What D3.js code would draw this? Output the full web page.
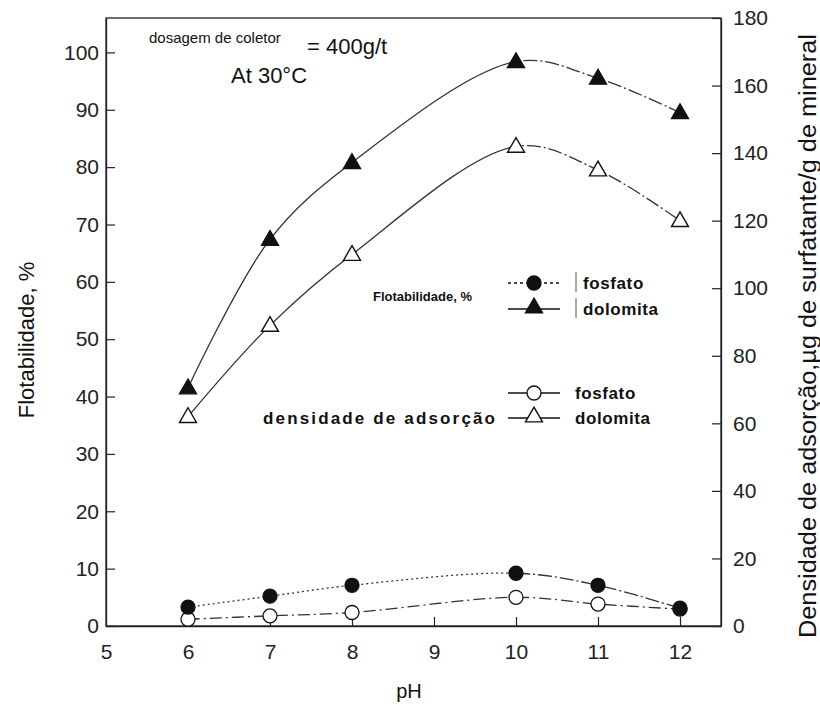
<!DOCTYPE html>
<html>
<head>
<meta charset="utf-8">
<script src="https://cdn.jsdelivr.net/npm/d3@7"></script>
<style>
  body { margin: 0; background: #fff; }
  svg text { font-family: "Liberation Sans", Arial, sans-serif; }
</style>
</head>
<body>
<svg id="chart" width="820" height="705"></svg>
<script>
// pH values and series
const PH = [6, 7, 8, 10, 11, 12];
const FLOT_DOLOMITA = [41.5, 67.4, 80.8, 98.4, 95.5, 89.5];   // left axis, %
const FLOT_FOSFATO = [3.3, 5.2, 7.1, 9.2, 7.1, 3.1];          // left axis, %
const ADS_DOLOMITA = [62, 89, 110, 142, 135, 120];            // right axis, µg/g
const ADS_FOSFATO = [2, 3, 4, 8.5, 6.5, 5];                   // right axis, µg/g

const X_TICKS = [5, 6, 7, 8, 9, 10, 11, 12];
const LEFT_TICKS = [0, 10, 20, 30, 40, 50, 60, 70, 80, 90, 100];
const RIGHT_TICKS = [0, 20, 40, 60, 80, 100, 120, 140, 160, 180];

const M = { left: 106, right: 721, top: 18, bottom: 626 };

const svg = d3.select('#chart');

const x = d3.scaleLinear().domain([5, 12.5]).range([M.left, M.right]);
const yL = d3.scaleLinear().domain([0, 106]).range([M.bottom, M.top]);
const yR = d3.scaleLinear().domain([0, 180]).range([M.bottom, M.top]);

// frame
svg.append('rect')
  .attr('x', M.left).attr('y', M.top)
  .attr('width', M.right - M.left).attr('height', M.bottom - M.top)
  .attr('fill', 'none').attr('stroke', '#222').attr('stroke-width', 1.3);

// axes, ticks point inward
const gx = svg.append('g').attr('transform', `translate(0,${M.bottom})`)
  .call(d3.axisBottom(x).tickValues(X_TICKS).tickSizeInner(-9).tickSizeOuter(0).tickPadding(18));
const gl = svg.append('g').attr('transform', `translate(${M.left},0)`)
  .call(d3.axisLeft(yL).tickValues(LEFT_TICKS).tickSizeInner(-9).tickSizeOuter(0).tickPadding(7));
const gr = svg.append('g').attr('transform', `translate(${M.right},0)`)
  .call(d3.axisRight(yR).tickValues(RIGHT_TICKS).tickSizeInner(-9).tickSizeOuter(0).tickPadding(12));

[gx, gl, gr].forEach(g => {
  g.select('.domain').attr('stroke', '#222').attr('stroke-width', 1.3);
  g.selectAll('.tick line').attr('stroke', '#222').attr('stroke-width', 1.2);
  g.selectAll('.tick text').attr('font-size', 21).attr('fill', '#222');
});
gx.selectAll('.tick line').filter(d => d === 5).remove();

// axis titles
svg.append('text')
  .attr('transform', 'translate(34,340) rotate(-90)')
  .attr('text-anchor', 'middle').attr('font-size', 22).attr('fill', '#111')
  .text('Flotabilidade, %');
svg.append('text')
  .attr('transform', 'translate(816,336) rotate(-90)')
  .attr('text-anchor', 'middle').attr('font-size', 23).attr('fill', '#111')
  .attr('textLength', 604).attr('lengthAdjust', 'spacingAndGlyphs')
  .text('Densidade de adsorção,µg de surfatante/g de mineral');
svg.append('text')
  .attr('x', 409).attr('y', 698)
  .attr('text-anchor', 'middle').attr('font-size', 20).attr('fill', '#111')
  .text('pH');

// clip regions: triangle curves are solid up to pH 10, dash-dot after
const defs = svg.append('defs');
defs.append('clipPath').attr('id', 'clipA').append('rect')
  .attr('x', 0).attr('y', 0).attr('width', x(10)).attr('height', 705);
defs.append('clipPath').attr('id', 'clipB').append('rect')
  .attr('x', x(10)).attr('y', 0).attr('width', 820 - x(10)).attr('height', 705);

const series = [
  { vals: ADS_FOSFATO, y: yR, marker: 'circ', fill: '#fff', dashA: '12,4,2,4', dashB: '12,4,2,4' },
  { vals: FLOT_FOSFATO, y: yL, marker: 'circ', fill: '#111', dashA: '2,3', dashB: '14,3,2,3' },
  { vals: ADS_DOLOMITA, y: yR, marker: 'tri', fill: '#fff', dashA: null, dashB: '14,3,2,3' },
  { vals: FLOT_DOLOMITA, y: yL, marker: 'tri', fill: '#111', dashA: null, dashB: '14,3,2,3' },
];

const triPath = d3.symbol().type(d3.symbolTriangle).size(125);
const line = d3.line().curve(d3.curveCatmullRom.alpha(0.5));

series.forEach(s => {
  const pts = PH.map((p, i) => [x(p), s.y(s.vals[i])]);
  [['clipA', s.dashA], ['clipB', s.dashB]].forEach(([clip, dash]) => {
    svg.append('path')
      .attr('d', line(pts))
      .attr('clip-path', `url(#${clip})`)
      .attr('fill', 'none').attr('stroke', '#333').attr('stroke-width', 1.3)
      .attr('stroke-dasharray', dash);
  });
});

series.forEach(s => {
  const g = svg.append('g');
  PH.forEach((p, i) => {
    const px = x(p), py = s.y(s.vals[i]);
    if (s.marker === 'tri') {
      g.append('path').attr('d', triPath())
        .attr('transform', `translate(${px},${py + 1})`)
        .attr('fill', s.fill).attr('stroke', '#111').attr('stroke-width', 1.4);
    } else {
      g.append('circle').attr('cx', px).attr('cy', py).attr('r', 7)
        .attr('fill', s.fill).attr('stroke', '#111').attr('stroke-width', 1.3);
    }
  });
});

// annotations
svg.append('text').attr('x', 149).attr('y', 43).attr('font-size', 15).attr('fill', '#111')
  .text('dosagem de coletor');
svg.append('text').attr('x', 307).attr('y', 54).attr('font-size', 22).attr('fill', '#111')
  .text('= 400g/t');
svg.append('text').attr('x', 231).attr('y', 83).attr('font-size', 22).attr('fill', '#111')
  .text('At 30°C');

// legends
const legend = [
  { lx: 534, ly: 283, marker: 'circ', fill: '#111', dash: '3,3', label: 'fosfato', bar: true },
  { lx: 534, ly: 309, marker: 'tri', fill: '#111', dash: null, label: 'dolomita', bar: true },
  { lx: 534, ly: 393, marker: 'circ', fill: '#fff', dash: null, label: 'fosfato', bar: false },
  { lx: 534, ly: 418, marker: 'tri', fill: '#fff', dash: null, label: 'dolomita', bar: false },
];
legend.forEach(d => {
  svg.append('line')
    .attr('x1', d.lx - 26).attr('x2', d.lx + 26).attr('y1', d.ly).attr('y2', d.ly)
    .attr('stroke', '#111').attr('stroke-width', 1.4).attr('stroke-dasharray', d.dash);
  if (d.marker === 'tri') {
    svg.append('path').attr('d', triPath()).attr('transform', `translate(${d.lx},${d.ly - 1})`)
      .attr('fill', d.fill).attr('stroke', '#111').attr('stroke-width', 1.4);
  } else {
    svg.append('circle').attr('cx', d.lx).attr('cy', d.ly).attr('r', 7)
      .attr('fill', d.fill).attr('stroke', '#111').attr('stroke-width', 1.3);
  }
  if (d.bar) {
    svg.append('line').attr('x1', 576).attr('x2', 576).attr('y1', d.ly - 11).attr('y2', d.ly + 9)
      .attr('stroke', '#555').attr('stroke-width', 1);
  }
  svg.append('text').attr('x', d.bar ? 583 : 575).attr('y', d.ly + 6)
    .attr('font-size', 17).attr('font-weight', 'bold').attr('fill', '#111')
    .attr('letter-spacing', 0.6)
    .text(d.label);
});
svg.append('text').attr('x', 373).attr('y', 301).attr('font-size', 13).attr('font-weight', 'bold')
  .attr('fill', '#111').text('Flotabilidade, %');
svg.append('text').attr('x', 263).attr('y', 424).attr('font-size', 17).attr('font-weight', 'bold')
  .attr('fill', '#111').attr('textLength', 232).attr('lengthAdjust', 'spacing')
  .text('densidade de adsorção');
</script>
</body>
</html>
